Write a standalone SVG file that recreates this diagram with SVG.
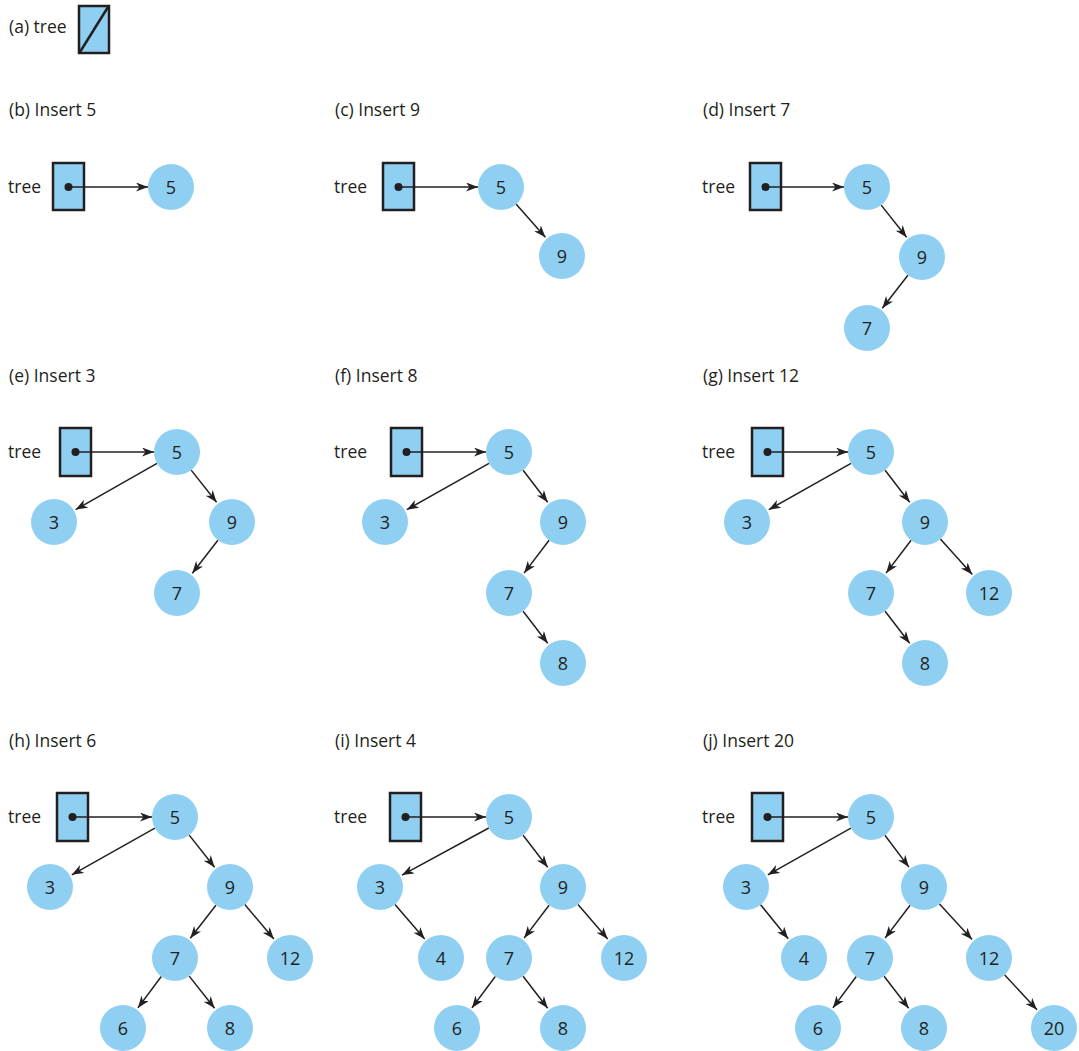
<svg xmlns="http://www.w3.org/2000/svg" width="1079" height="1051" viewBox="0 0 1079 1051">
<style>
text{font-family:"Open Sans","Liberation Sans",sans-serif;fill:#231F20}
.lbl{font-size:17.5px}
.num{font-size:18px;text-anchor:middle}
.nd{fill:#8FCFF2}
.bx{fill:#8FCFF2;stroke:#231F20;stroke-width:2.5}
.dot{fill:#231F20}
.ed{stroke:#231F20;stroke-width:1.5;fill:none;marker-end:url(#ah)}
</style>
<defs>
<marker id="ah" markerUnits="userSpaceOnUse" markerWidth="13" markerHeight="10" refX="12" refY="4.5" orient="auto">
<path d="M0,0 L12,4.5 L0,9 L3.5,4.5 z" fill="#231F20"/>
</marker>
</defs>
<rect width="1079" height="1051" fill="#fff"/>

<g id="labels">
<text class="lbl" x="9" y="33">(a) tree</text>
<text class="lbl" x="9" y="116">(b) Insert 5</text>
<text class="lbl" x="335" y="116">(c) Insert 9</text>
<text class="lbl" x="703" y="116">(d) Insert 7</text>
<text class="lbl" x="9" y="382">(e) Insert 3</text>
<text class="lbl" x="335" y="382">(f) Insert 8</text>
<text class="lbl" x="703" y="382">(g) Insert 12</text>
<text class="lbl" x="9" y="747">(h) Insert 6</text>
<text class="lbl" x="335" y="747">(i) Insert 4</text>
<text class="lbl" x="703" y="747">(j) Insert 20</text>
<text class="lbl" x="8" y="193">tree</text>
<text class="lbl" x="334" y="193">tree</text>
<text class="lbl" x="702" y="193">tree</text>
<text class="lbl" x="8" y="458">tree</text>
<text class="lbl" x="334" y="458">tree</text>
<text class="lbl" x="702" y="458">tree</text>
<text class="lbl" x="8" y="823">tree</text>
<text class="lbl" x="334" y="823">tree</text>
<text class="lbl" x="702" y="823">tree</text>
</g>

<g id="box-a"><rect class="bx" x="79" y="6" width="30" height="47"/><line x1="80" y1="52" x2="108" y2="7" stroke="#231F20" stroke-width="2.5"/></g>
<g id="box-b"><rect class="bx" x="53" y="163" width="31" height="47"/><circle class="dot" cx="68.5" cy="187" r="4"/></g>
<g id="box-c"><rect class="bx" x="383" y="163" width="31" height="47"/><circle class="dot" cx="398.5" cy="187" r="4"/></g>
<g id="box-d"><rect class="bx" x="750" y="163" width="31" height="47"/><circle class="dot" cx="765.5" cy="187" r="4"/></g>
<g id="box-e"><rect class="bx" x="60" y="428" width="31" height="48"/><circle class="dot" cx="75.5" cy="452" r="4"/></g>
<g id="box-f"><rect class="bx" x="391" y="428" width="31" height="48"/><circle class="dot" cx="406.5" cy="452" r="4"/></g>
<g id="box-g"><rect class="bx" x="752" y="428" width="31" height="48"/><circle class="dot" cx="767.5" cy="452" r="4"/></g>
<g id="box-h"><rect class="bx" x="57" y="793" width="31" height="48"/><circle class="dot" cx="72.5" cy="817" r="4"/></g>
<g id="box-i"><rect class="bx" x="390" y="793" width="31" height="48"/><circle class="dot" cx="405.5" cy="817" r="4"/></g>
<g id="box-j"><rect class="bx" x="752" y="793" width="31" height="48"/><circle class="dot" cx="767.5" cy="817" r="4"/></g>

<g id="connectors">
<line class="ed" x1="69" y1="187" x2="148" y2="187"/>

<line class="ed" x1="399" y1="187" x2="478" y2="187"/>
<line class="ed" x1="516" y1="204" x2="545.4" y2="237.3"/>

<line class="ed" x1="766" y1="187" x2="844" y2="187"/>
<line class="ed" x1="881.2" y1="205.1" x2="906.6" y2="237.3"/>
<line class="ed" x1="907.9" y1="275.2" x2="882.3" y2="308.2"/>

<line class="ed" x1="76" y1="452" x2="154" y2="452"/>
<line class="ed" x1="157" y1="463.4" x2="75.7" y2="509.6"/>
<line class="ed" x1="191.2" y1="470.1" x2="216.6" y2="502.3"/>
<line class="ed" x1="217.9" y1="540.2" x2="192.3" y2="573.2"/>

<line class="ed" x1="407" y1="452" x2="486" y2="452"/>
<line class="ed" x1="489" y1="463.3" x2="406.8" y2="509.7"/>
<line class="ed" x1="523.1" y1="470.2" x2="547.7" y2="502.2"/>
<line class="ed" x1="549.1" y1="540.3" x2="524.1" y2="573.1"/>
<line class="ed" x1="523.1" y1="611.2" x2="547.7" y2="643.2"/>

<line class="ed" x1="768" y1="452" x2="848" y2="452"/>
<line class="ed" x1="851" y1="463.3" x2="768.8" y2="509.7"/>
<line class="ed" x1="885.1" y1="470.2" x2="909.7" y2="502.2"/>
<line class="ed" x1="911.1" y1="540.3" x2="886.1" y2="573.1"/>
<line class="ed" x1="940.4" y1="539.1" x2="972.3" y2="574.4"/>
<line class="ed" x1="885.1" y1="611.2" x2="909.7" y2="643.2"/>

<line class="ed" x1="73" y1="817" x2="152" y2="817"/>
<line class="ed" x1="154.9" y1="828.2" x2="71.8" y2="874.8"/>
<line class="ed" x1="189.2" y1="835.1" x2="214.6" y2="867.3"/>
<line class="ed" x1="215.9" y1="905.2" x2="190.3" y2="938.2"/>
<line class="ed" x1="244.8" y1="904.6" x2="273.9" y2="938.9"/>
<line class="ed" x1="161.3" y1="976.5" x2="137.9" y2="1007.9"/>
<line class="ed" x1="189.2" y1="976.1" x2="214.6" y2="1008.3"/>

<line class="ed" x1="406" y1="817" x2="486" y2="817"/>
<line class="ed" x1="488.8" y1="828" x2="402" y2="875.1"/>
<line class="ed" x1="523.1" y1="835.2" x2="547.7" y2="867.2"/>
<line class="ed" x1="395" y1="904.5" x2="424.7" y2="939"/>
<line class="ed" x1="549.1" y1="905.3" x2="524.1" y2="938.1"/>
<line class="ed" x1="578" y1="904.5" x2="607.7" y2="939"/>
<line class="ed" x1="495.3" y1="976.5" x2="471.9" y2="1007.9"/>
<line class="ed" x1="523.1" y1="976.2" x2="547.7" y2="1008.2"/>

<line class="ed" x1="768" y1="817" x2="848" y2="817"/>
<line class="ed" x1="850.9" y1="828.2" x2="767.8" y2="874.8"/>
<line class="ed" x1="884.9" y1="835.3" x2="908.9" y2="867.1"/>
<line class="ed" x1="760.6" y1="904.8" x2="788.2" y2="938.7"/>
<line class="ed" x1="910.1" y1="905.3" x2="885.1" y2="938.1"/>
<line class="ed" x1="939.5" y1="904" x2="972.1" y2="939.6"/>
<line class="ed" x1="856.3" y1="976.5" x2="832.9" y2="1007.9"/>
<line class="ed" x1="884.1" y1="976.2" x2="908.7" y2="1008.2"/>
<line class="ed" x1="1004.7" y1="974.9" x2="1037" y2="1009.7"/>
</g>

<g id="b-5"><circle class="nd" cx="171" cy="187" r="23"/><text class="num" x="171" y="193.5">5</text></g>

<g id="c-5"><circle class="nd" cx="501" cy="187" r="23"/><text class="num" x="501" y="193.5">5</text></g>
<g id="c-9"><circle class="nd" cx="562" cy="256" r="23"/><text class="num" x="562" y="262.5">9</text></g>

<g id="d-5"><circle class="nd" cx="867" cy="187" r="23"/><text class="num" x="867" y="193.5">5</text></g>
<g id="d-9"><circle class="nd" cx="922" cy="257" r="23"/><text class="num" x="922" y="263.5">9</text></g>
<g id="d-7"><circle class="nd" cx="867" cy="328" r="23"/><text class="num" x="867" y="334.5">7</text></g>

<g id="e-5"><circle class="nd" cx="177" cy="452" r="23"/><text class="num" x="177" y="458.5">5</text></g>
<g id="e-3"><circle class="nd" cx="54" cy="522" r="23"/><text class="num" x="54" y="528.5">3</text></g>
<g id="e-9"><circle class="nd" cx="232" cy="522" r="23"/><text class="num" x="232" y="528.5">9</text></g>
<g id="e-7"><circle class="nd" cx="177" cy="593" r="23"/><text class="num" x="177" y="599.5">7</text></g>

<g id="f-5"><circle class="nd" cx="509" cy="452" r="23"/><text class="num" x="509" y="458.5">5</text></g>
<g id="f-3"><circle class="nd" cx="385" cy="522" r="23"/><text class="num" x="385" y="528.5">3</text></g>
<g id="f-9"><circle class="nd" cx="563" cy="522" r="23"/><text class="num" x="563" y="528.5">9</text></g>
<g id="f-7"><circle class="nd" cx="509" cy="593" r="23"/><text class="num" x="509" y="599.5">7</text></g>
<g id="f-8"><circle class="nd" cx="563" cy="663" r="23"/><text class="num" x="563" y="669.5">8</text></g>

<g id="g-5"><circle class="nd" cx="871" cy="452" r="23"/><text class="num" x="871" y="458.5">5</text></g>
<g id="g-3"><circle class="nd" cx="747" cy="522" r="23"/><text class="num" x="747" y="528.5">3</text></g>
<g id="g-9"><circle class="nd" cx="925" cy="522" r="23"/><text class="num" x="925" y="528.5">9</text></g>
<g id="g-7"><circle class="nd" cx="871" cy="593" r="23"/><text class="num" x="871" y="599.5">7</text></g>
<g id="g-12"><circle class="nd" cx="989" cy="593" r="23"/><text class="num" x="989" y="599.5">12</text></g>
<g id="g-8"><circle class="nd" cx="925" cy="663" r="23"/><text class="num" x="925" y="669.5">8</text></g>

<g id="h-5"><circle class="nd" cx="175" cy="817" r="23"/><text class="num" x="175" y="823.5">5</text></g>
<g id="h-3"><circle class="nd" cx="50" cy="887" r="23"/><text class="num" x="50" y="893.5">3</text></g>
<g id="h-9"><circle class="nd" cx="230" cy="887" r="23"/><text class="num" x="230" y="893.5">9</text></g>
<g id="h-7"><circle class="nd" cx="175" cy="958" r="23"/><text class="num" x="175" y="964.5">7</text></g>
<g id="h-12"><circle class="nd" cx="290" cy="958" r="23"/><text class="num" x="290" y="964.5">12</text></g>
<g id="h-6"><circle class="nd" cx="123" cy="1028" r="23"/><text class="num" x="123" y="1034.5">6</text></g>
<g id="h-8"><circle class="nd" cx="230" cy="1028" r="23"/><text class="num" x="230" y="1034.5">8</text></g>

<g id="i-5"><circle class="nd" cx="509" cy="817" r="23"/><text class="num" x="509" y="823.5">5</text></g>
<g id="i-3"><circle class="nd" cx="380" cy="887" r="23"/><text class="num" x="380" y="893.5">3</text></g>
<g id="i-9"><circle class="nd" cx="563" cy="887" r="23"/><text class="num" x="563" y="893.5">9</text></g>
<g id="i-4"><circle class="nd" cx="441" cy="958" r="23"/><text class="num" x="441" y="964.5">4</text></g>
<g id="i-7"><circle class="nd" cx="509" cy="958" r="23"/><text class="num" x="509" y="964.5">7</text></g>
<g id="i-12"><circle class="nd" cx="624" cy="958" r="23"/><text class="num" x="624" y="964.5">12</text></g>
<g id="i-6"><circle class="nd" cx="457" cy="1028" r="23"/><text class="num" x="457" y="1034.5">6</text></g>
<g id="i-8"><circle class="nd" cx="563" cy="1028" r="23"/><text class="num" x="563" y="1034.5">8</text></g>

<g id="j-5"><circle class="nd" cx="871" cy="817" r="23"/><text class="num" x="871" y="823.5">5</text></g>
<g id="j-3"><circle class="nd" cx="746" cy="887" r="23"/><text class="num" x="746" y="893.5">3</text></g>
<g id="j-9"><circle class="nd" cx="924" cy="887" r="23"/><text class="num" x="924" y="893.5">9</text></g>
<g id="j-4"><circle class="nd" cx="804" cy="958" r="23"/><text class="num" x="804" y="964.5">4</text></g>
<g id="j-7"><circle class="nd" cx="870" cy="958" r="23"/><text class="num" x="870" y="964.5">7</text></g>
<g id="j-12"><circle class="nd" cx="989" cy="958" r="23"/><text class="num" x="989" y="964.5">12</text></g>
<g id="j-6"><circle class="nd" cx="818" cy="1028" r="23"/><text class="num" x="818" y="1034.5">6</text></g>
<g id="j-8"><circle class="nd" cx="924" cy="1028" r="23"/><text class="num" x="924" y="1034.5">8</text></g>
<g id="j-20"><circle class="nd" cx="1054" cy="1028" r="23"/><text class="num" x="1054" y="1034.5">20</text></g>
</svg>
